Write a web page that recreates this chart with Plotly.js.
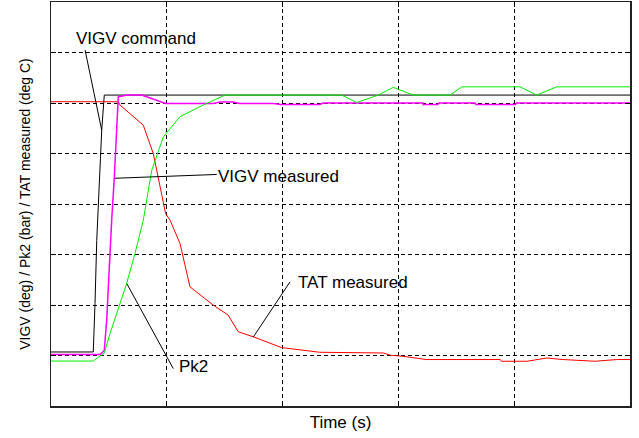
<!DOCTYPE html>
<html>
<head>
<meta charset="utf-8">
<script src="https://cdn.plot.ly/plotly-3.0.1.min.js"></script>
<style>
html,body{margin:0;padding:0;background:#fff;}
#chart{width:639px;height:438px;}
</style>
</head>
<body>
<div id="chart"></div>
<script>
// Time (s) and values
var cmdTime = [0, 0.365, 0.38, 0.395, 0.438, 0.46, 5];
var cmdVal  = [1.07, 1.07, 2.03, 3.28, 5.46, 6.157, 6.157];

var measTime = [0, 0.423, 0.46, 0.481, 0.524, 0.547, 0.581, 0.654, 0.783, 0.99, 1.129, 1.40, 1.46, 1.57, 1.63, 1.92, 1.98, 2.32, 2.35, 3.21, 3.215, 3.34, 3.35, 3.66, 3.67, 4.01, 4.02, 5];
var measVal  = [1.02, 1.02, 1.10, 1.70, 3.68, 4.54, 6.12, 6.157, 6.157, 5.99, 5.99, 5.99, 6.02, 6.02, 5.99, 5.99, 5.97, 5.97, 6.0, 6.0, 5.97, 5.97, 6.0, 6.0, 5.97, 5.97, 6.0, 6.0];

var tatTime = [0, 0.581, 0.596, 0.797, 0.883, 0.99, 1.028, 1.114, 1.2, 1.40, 1.53, 1.617, 1.747, 1.99, 2.32, 2.87, 2.93, 3.04, 3.24, 3.88, 3.89, 4.11, 4.28, 4.42, 4.70, 4.885, 5];
var tatVal  = [6.025, 6.025, 5.96, 5.56, 5.0, 3.81, 3.68, 3.22, 2.36, 2.0, 1.80, 1.47, 1.37, 1.157, 1.064, 1.05, 1.005, 0.985, 0.92, 0.92, 0.886, 0.886, 0.95, 0.92, 0.886, 0.92, 0.92];

var pk2Time = [0, 0.365, 0.46, 0.51, 0.596, 0.654, 0.725, 0.797, 0.87, 0.97, 1.114, 1.315, 1.503, 2.51, 2.64, 2.826, 2.956, 3.129, 3.446, 3.547, 4.05, 4.194, 4.367, 5];
var pk2Val  = [0.89, 0.89, 1.05, 1.435, 2.03, 2.43, 3.02, 3.68, 4.67, 5.33, 5.73, 5.96, 6.157, 6.157, 6.01, 6.157, 6.31, 6.157, 6.157, 6.32, 6.32, 6.157, 6.32, 6.32];

var labels = ["VIGV command", "VIGV measured", "Pk2", "TAT measured"];

var traces = [
  {x: cmdTime, y: cmdVal, name: labels[0], mode: "lines", line: {color: "#000000", width: 1}},
  {x: tatTime, y: tatVal, name: labels[3], mode: "lines", line: {color: "#ff0000", width: 1}},
  {x: measTime, y: measVal, name: labels[1], mode: "lines", line: {color: "#ff00ff", width: 1.5}},
  {x: pk2Time, y: pk2Val, name: labels[2], mode: "lines", line: {color: "#00ee00", width: 1}}
];

var fontFam = "Liberation Sans, Arial, sans-serif";
var axisCommon = {
  showticklabels: false,
  ticks: "inside",
  ticklen: 5,
  tickcolor: "#000",
  tickwidth: 1,
  showline: true,
  linecolor: "#222",
  linewidth: 1.5,
  mirror: "ticks",
  showgrid: true,
  gridcolor: "#000",
  gridwidth: 1,
  griddash: "4px,3px",
  zeroline: false,
  dtick: 1,
  fixedrange: true
};

function lineShape(x0, y0, x1, y1) {
  return {type: "line", xref: "x", yref: "y", x0: x0, y0: y0, x1: x1, y1: y1,
          line: {color: "#000", width: 1}};
}
function label(txt, x, y) {
  return {text: txt, x: x, y: y, xref: "x", yref: "y", showarrow: false,
          xanchor: "center", yanchor: "middle", font: {family: fontFam, size: 17, color: "#000"}};
}

var layout = {
  width: 639, height: 438,
  margin: {l: 51, r: 9, t: 2, b: 32},
  paper_bgcolor: "#fff", plot_bgcolor: "#fff",
  showlegend: false,
  xaxis: Object.assign({}, axisCommon, {range: [0, 5],
    title: {text: "Time (s)", standoff: 9, font: {family: fontFam, size: 17, color: "#000"}}}),
  yaxis: Object.assign({}, axisCommon, {range: [0, 8],
    title: {text: "VIGV (deg) / Pk2 (bar) / TAT measured (deg C)", standoff: 15, font: {family: fontFam, size: 14, color: "#000"}}}),
  shapes: [
    lineShape(0.294, 7.05, 0.438, 5.46),
    lineShape(0.553, 4.51, 1.431, 4.585),
    lineShape(0.654, 2.426, 1.056, 0.741),
    lineShape(1.747, 1.367, 2.064, 2.457)
  ],
  annotations: [
    label(labels[0], 0.738, 7.27),
    label(labels[1], 1.963, 4.54),
    label(labels[2], 1.23, 0.773),
    label(labels[3], 2.604, 2.445)
  ]
};

Plotly.newPlot("chart", traces, layout, {displayModeBar: false, staticPlot: true});
</script>
</body>
</html>
